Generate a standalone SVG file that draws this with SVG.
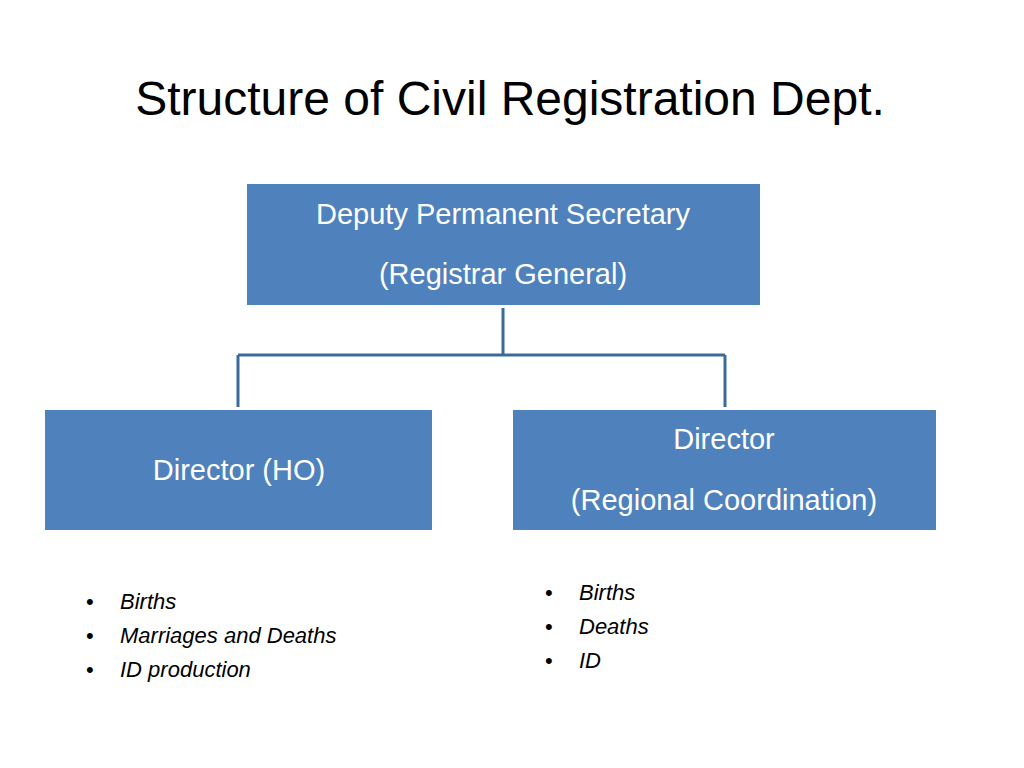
<svg xmlns="http://www.w3.org/2000/svg" width="1024" height="768" viewBox="0 0 1024 768">
<style>
.box{fill:#4F81BD}
.bt{fill:#fff;font-family:"Liberation Sans",Arial,sans-serif;font-size:29px;text-anchor:middle}
.li{fill:#000;font-family:"Liberation Sans",Arial,sans-serif;font-size:22px;font-style:italic}
.bu{fill:#000;font-family:"Liberation Sans",Arial,sans-serif;font-size:22px}
.c{stroke:#3C6A9C;stroke-width:3;fill:none}
</style>
<rect width="1024" height="768" fill="#fff"/>
<text x="510" y="115" font-family="Liberation Sans,Arial,sans-serif" font-size="48" text-anchor="middle" fill="#000">Structure of Civil Registration Dept.</text>
<g id="connectors">
<path class="c" d="M503 308V355M238 355H725M238 355V407M725 355V407"/>
</g>
<g id="n1"><rect class="box" x="247" y="184" width="513" height="121"/>
<text class="bt" x="503" y="224">Deputy Permanent Secretary</text>
<text class="bt" x="503" y="284">(Registrar General)</text></g>
<g id="n2"><rect class="box" x="45" y="410" width="387" height="120"/>
<text class="bt" x="239" y="480">Director (HO)</text></g>
<g id="n3"><rect class="box" x="513" y="410" width="423" height="120"/>
<text class="bt" x="724" y="449">Director</text>
<text class="bt" x="724" y="510">(Regional Coordination)</text></g>
<g id="l1">
<text class="bu" x="86" y="609">•</text><text class="li" x="120" y="609">Births</text>
<text class="bu" x="86" y="643">•</text><text class="li" x="120" y="643">Marriages and Deaths</text>
<text class="bu" x="86" y="677">•</text><text class="li" x="120" y="677">ID production</text>
</g>
<g id="l2">
<text class="bu" x="545" y="600">•</text><text class="li" x="579" y="600">Births</text>
<text class="bu" x="545" y="634">•</text><text class="li" x="579" y="634">Deaths</text>
<text class="bu" x="545" y="668">•</text><text class="li" x="579" y="668">ID</text>
</g>
</svg>
